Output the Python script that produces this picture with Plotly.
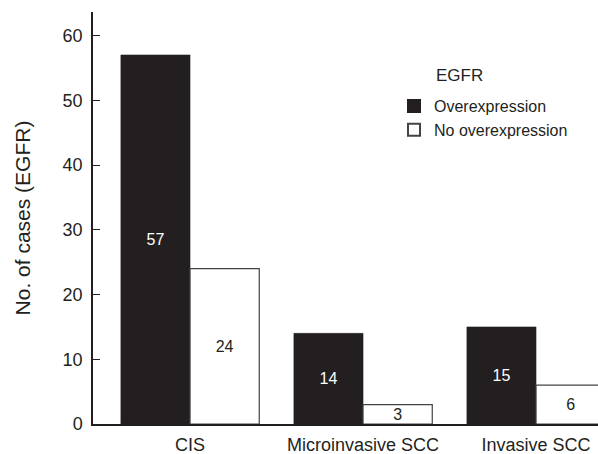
import plotly.graph_objects as go

categories = ["CIS", "Microinvasive SCC", "Invasive SCC"]
over_values = [57, 14, 15]
noover_values = [24, 3, 6]
series_names = ["Overexpression", "No overexpression"]
y_ticks = [0, 10, 20, 30, 40, 50, 60]

dark = "#231f20"
font_family = "Liberation Sans, Arial, Helvetica, sans-serif"

fig = go.Figure()
fig.add_trace(go.Bar(
    x=categories, y=over_values, name=series_names[0],
    marker=dict(color=dark, line=dict(color=dark, width=0.5)),
    text=[str(v) for v in over_values], textposition="inside",
    insidetextanchor="middle", textangle=0,
    textfont=dict(color="white", size=16, family=font_family),
    constraintext="none",
))
fig.add_trace(go.Bar(
    x=categories, y=noover_values, name=series_names[1],
    marker=dict(color="white", line=dict(color="#444444", width=1.2)),
    text=[str(v) for v in noover_values], textposition="inside",
    insidetextanchor="middle", textangle=0,
    textfont=dict(color=dark, size=16, family=font_family),
    constraintext="none",
))

fig.update_layout(
    width=598, height=454,
    margin=dict(l=93, r=0, t=12, b=30),
    paper_bgcolor="white", plot_bgcolor="white",
    barmode="group", bargap=0.2, bargroupgap=0,
    font=dict(family=font_family, color=dark, size=18),
    uniformtext=dict(minsize=16, mode="show"),
    showlegend=True,
    legend=dict(
        x=(394 - 93) / 505, y=1 - (89 - 12) / 412,
        xanchor="left", yanchor="top",
        font=dict(size=16, color=dark, family=font_family),
        bgcolor="rgba(0,0,0,0)", traceorder="normal",
        tracegroupgap=0, itemsizing="constant",
    ),
    annotations=[dict(
        text="EGFR", x=(434 - 93) / 505, y=1 - (76 - 12) / 412,
        xref="paper", yref="paper", xanchor="left", yanchor="middle",
        showarrow=False, font=dict(size=17, color=dark, family=font_family),
    )],
)
fig.update_xaxes(
    range=[-0.561, 2.358], showline=True, linecolor=dark, linewidth=1.5,
    ticks="", showgrid=False, zeroline=False,
    ticklabelstandoff=4,
    tickfont=dict(size=18, color=dark),
)
fig.update_yaxes(
    range=[0, 63.63], tickvals=y_ticks, ticktext=[str(v) for v in y_ticks],
    showline=True, linecolor=dark, linewidth=1.5,
    ticks="inside", ticklen=7, tickwidth=1.2, tickcolor=dark,
    ticklabelstandoff=5,
    showgrid=False, zeroline=False,
    tickfont=dict(size=18, color=dark),
    title=dict(text="No. of cases (EGFR)", font=dict(size=21, color=dark), standoff=26),
)

fig.write_html(
    "out.html",
    config={"displayModeBar": False},
    post_script="document.body.style.margin='0px';document.body.style.overflow='hidden';",
)
